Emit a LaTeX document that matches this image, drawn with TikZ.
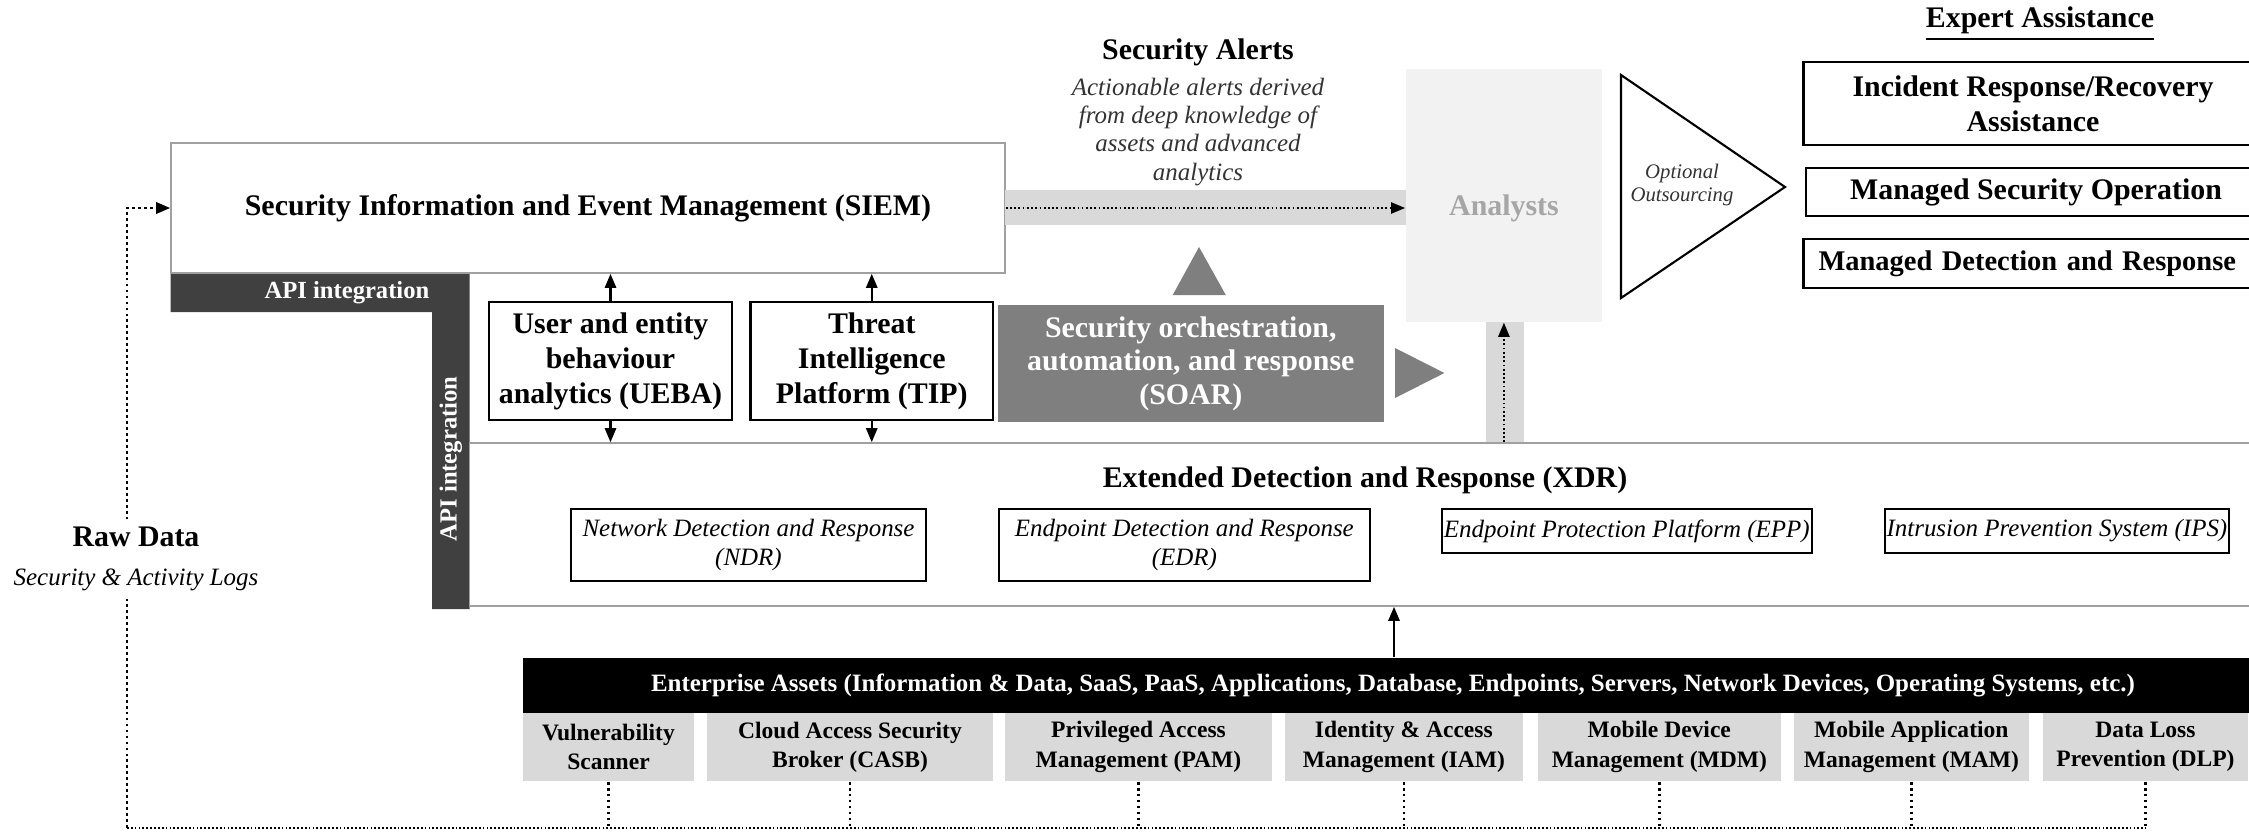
\documentclass[tikz,border=0pt]{standalone}
\usepackage{fontspec}
\setmainfont{Liberation Serif}
\usetikzlibrary{arrows.meta}

\definecolor{apigray}{HTML}{404040}
\definecolor{soargray}{HTML}{7F7F7F}
\definecolor{bandgray}{HTML}{D9D9D9}
\definecolor{analystfill}{HTML}{F2F2F2}
\definecolor{analysttext}{HTML}{A6A6A6}
\definecolor{frameline}{HTML}{A0A0A0}

\tikzset{
  bigbf/.style={font=\fontsize{8.5}{10}\selectfont\bfseries},
  smallit/.style={font=\fontsize{7.1}{8}\selectfont\itshape},
  framebox/.style={draw=frameline, line width=0.45pt, inner sep=0pt},
  blackbox/.style={draw=black, line width=0.6pt, inner sep=0pt, align=center},
  toolbox/.style={fill=bandgray, inner sep=0pt, minimum height=0.68cm, align=center,
    font=\fontsize{6.7}{8.3}\selectfont\bfseries},
  apitext/.style={text=white, inner sep=0pt, font=\fontsize{7}{8}\selectfont\bfseries},
  tip/.style={-{Triangle[length=4pt,width=3.2pt]}},
  fineline/.style={line width=0.5pt, dash pattern=on 0.5pt off 0.7pt},
  rawline/.style={line width=0.7pt, dash pattern=on 0.8pt off 0.9pt},
  baseline/.style={line width=0.7pt, dash pattern=on 0.5pt off 0.6pt}
}

\begin{document}
\begin{tikzpicture}
\useasboundingbox (0,0) rectangle (22.49,-8.31);
\clip (0,0) rectangle (22.49,-8.31);

% SIEM and the API bars
\fill[apigray] (1.706,-2.73) -- (4.695,-2.73) -- (4.695,-6.09) -- (4.32,-6.09)
  -- (4.32,-3.12) -- (1.706,-3.12) -- cycle;
\node[framebox, bigbf, minimum width=8.34cm, minimum height=1.30cm] (siem) at (5.88,-2.08)
  {Security Information and Event Management (SIEM)};
\node[apitext, anchor=east] (apih) at (4.30,-2.925) {API integration};
\node[apitext, rotate=90] (apiv) at (4.507,-4.59) {API integration};

% analytics boxes
\node[blackbox, bigbf, minimum width=2.43cm, minimum height=1.18cm] (ueba) at (6.105,-3.61)
  {User and entity\\behaviour\\analytics (UEBA)};
\node[blackbox, bigbf, minimum width=2.425cm, minimum height=1.18cm] (tip) at (8.7175,-3.61)
  {Threat\\Intelligence\\Platform (TIP)};
\node[fill=soargray, text=white, inner sep=0pt, align=center, minimum width=3.855cm,
  minimum height=1.17cm, font=\fontsize{8.5}{9.5}\selectfont\bfseries] (soar) at (11.9075,-3.635)
  {Security orchestration,\\automation, and response\\(SOAR)};
\fill[soargray] (11.727,-2.95) -- (12.258,-2.95) -- (11.99,-2.47) -- cycle;
\fill[soargray] (13.95,-3.48) -- (13.95,-3.98) -- (14.444,-3.73) -- cycle;

% analysts
\node[fill=analystfill, inner sep=0pt, minimum width=1.963cm, minimum height=2.53cm] (analysts)
  at (15.039,-1.955) {};
\node[bigbf, text=analysttext] (analystlabel) at (15.04,-2.08) {Analysts};
\fill[bandgray] (10.05,-1.90) rectangle (14.057,-2.25);
\fill[bandgray] (14.86,-3.22) rectangle (15.24,-4.43);
\draw[fineline, tip] (siem.east) -- (siem.east -| analysts.west);

\node[bigbf] (alerts) at (11.98,-0.52) {Security Alerts};
\node[smallit, text=black!80, align=center, anchor=north] (alertsnote) at (11.98,-0.66)
  {Actionable alerts derived\\from deep knowledge of\\assets and advanced\\analytics};

% outsourcing
\draw[line width=0.6pt] (16.21,-0.75) -- (17.85,-1.87) -- (16.21,-2.98) -- cycle;
\node[align=center, text=black!80, font=\fontsize{5.9}{6.6}\selectfont\itshape] (outsrc)
  at (16.82,-1.85) {Optional\\Outsourcing};

% expert assistance
\node[bigbf] (expert) at (20.40,-0.24) {\underline{Expert Assistance}};
\node[blackbox, bigbf, minimum width=4.59cm, minimum height=0.83cm] (irr) at (20.33,-1.035)
  {Incident Response/Recovery\\Assistance};
\node[blackbox, bigbf, minimum width=4.60cm, minimum height=0.48cm] (mso) at (20.36,-1.92)
  {Managed Security Operation};
\node[blackbox, align=left, inner xsep=0.15cm, text width=4.49cm, minimum height=0.49cm,
  font=\fontsize{8.1}{10}\selectfont\bfseries] (mdr) at (20.43,-2.635)
  {Managed Detection and Response};

% XDR
\node[framebox, minimum width=18.005cm, minimum height=1.63cm] (xdr) at (13.6975,-5.245) {};
\node[bigbf] (xdrtitle) at (13.65,-4.80) {Extended Detection and Response (XDR)};
\node[blackbox, smallit, minimum width=3.55cm, minimum height=0.72cm] (ndr) at (7.485,-5.45)
  {Network Detection and Response\\(NDR)};
\node[blackbox, smallit, minimum width=3.714cm, minimum height=0.72cm] (edr) at (11.843,-5.45)
  {Endpoint Detection and Response\\(EDR)};
\node[blackbox, smallit, minimum width=3.704cm, minimum height=0.437cm] (epp) at (16.268,-5.309)
  {Endpoint Protection Platform (EPP)};
\node[blackbox, smallit, minimum width=3.437cm, minimum height=0.437cm] (ips) at (20.569,-5.309)
  {Intrusion Prevention System (IPS)};

\draw[tip, line width=0.6pt] (ueba.north) -- (ueba.north |- siem.south);
\draw[tip, line width=0.6pt] (tip.north) -- (tip.north |- siem.south);
\draw[tip, line width=0.6pt] (ueba.south) -- (ueba.south |- xdr.north);
\draw[tip, line width=0.6pt] (tip.south) -- (tip.south |- xdr.north);
\draw[fineline, tip] (xdr.north -| analysts.south) -- (analysts.south);

% enterprise assets
\node[fill=black, text=white, inner sep=0pt, minimum width=17.40cm, minimum height=0.55cm,
  font=\fontsize{7.1}{8}\selectfont\bfseries] (assets) at (13.93,-6.855)
  {Enterprise Assets (Information \& Data, SaaS, PaaS, Applications, Database, Endpoints, Servers, Network Devices, Operating Systems, etc.)};
\draw[tip, line width=0.6pt] (assets.north -| 13.94,0) -- (xdr.south -| 13.94,0);

\node[toolbox, minimum width=1.71cm] (vuln) at (6.085,-7.47) {Vulnerability\\Scanner};
\node[toolbox, minimum width=2.86cm] (casb) at (8.50,-7.47) {Cloud Access Security\\Broker (CASB)};
\node[toolbox, minimum width=2.67cm] (pam) at (11.385,-7.47) {Privileged Access\\Management (PAM)};
\node[toolbox, minimum width=2.384cm] (iam) at (14.038,-7.47) {Identity \& Access\\Management (IAM)};
\node[toolbox, minimum width=2.434cm] (mdm) at (16.593,-7.47) {Mobile Device\\Management (MDM)};
\node[toolbox, minimum width=2.347cm] (mam) at (19.1135,-7.47) {Mobile Application\\Management (MAM)};
\node[toolbox, minimum width=2.05cm] (dlp) at (21.455,-7.47) {Data Loss\\Prevention (DLP)};

% raw data loop
\node[align=center, inner sep=2pt] (raw) at (1.36,-5.59)
  {{\fontsize{8.5}{10}\selectfont\bfseries Raw Data}\\[-1pt]{\fontsize{7.1}{8}\selectfont\itshape Security \& Activity Logs}};
\coordinate (bl) at (1.27,-8.28);
\foreach \t in {vuln,casb,pam,iam,mdm,mam,dlp}
  \draw[rawline] (\t.south) -- (\t.south |- bl);
\draw[baseline] (bl) -- (dlp.south |- bl);
\draw[rawline] (bl) -- (bl |- raw.south);
\draw[rawline, tip] (bl |- raw.north) |- (siem.west);
\end{tikzpicture}
\end{document}
